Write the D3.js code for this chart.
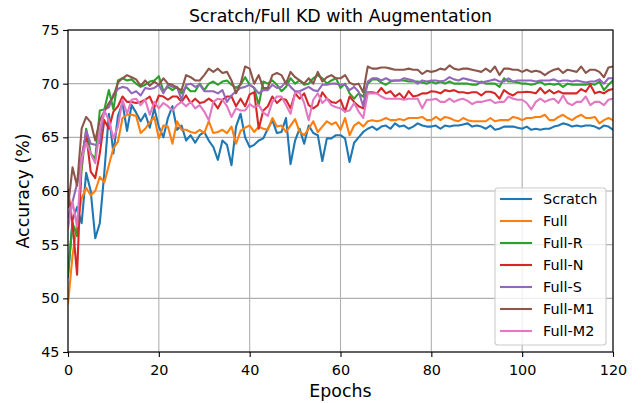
<!DOCTYPE html>
<html><head><meta charset="utf-8">
<script src="https://cdn.jsdelivr.net/npm/d3@7"></script>
<style>
body{margin:0;background:#fff}
svg{display:block}
text{font-family:"DejaVu Sans",sans-serif;fill:#000}
</style>
</head><body>
<svg id="chart" width="643" height="403"></svg>
<script>
const title = "Scratch/Full KD with Augmentation";
const xLabel = "Epochs";
const yLabel = "Accuracy (%)";
const seriesNames = ["Scratch","Full","Full-R","Full-N","Full-S","Full-M1","Full-M2"];
const seriesColors = ["#1f77b4","#ff7f0e","#2ca02c","#d62728","#9467bd","#8c564b","#e377c2"];
const xTicks = [0,20,40,60,80,100,120];
const yTicks = [45,50,55,60,65,70,75];

const scratch = [
52.0,57.3,58.5,57.0,61.7,60.0,55.6,57.0,61.7,67.2,
63.5,67.0,68.2,65.6,68.0,67.3,66.5,67.2,65.9,67.7,
66.0,65.0,66.8,67.9,65.7,66.1,64.7,65.2,64.5,65.2,
65.5,64.7,64.1,62.9,64.7,64.3,62.4,66.0,67.2,65.0,
64.1,64.3,64.7,64.9,65.8,66.6,65.4,65.5,66.8,62.5,
64.7,65.8,64.4,66.1,65.4,65.2,62.8,64.9,64.9,65.2,
65.2,64.9,62.7,64.5,65.0,65.5,65.8,66.0,65.7,66.0,
66.1,65.8,66.3,66.0,66.1,65.8,66.0,66.3,66.1,66.0,
66.0,66.1,65.8,66.1,66.0,66.1,66.1,66.2,66.3,66.0,
66.1,66.0,65.8,66.1,65.7,65.8,66.0,66.0,66.0,65.9,
65.8,66.0,65.7,65.8,65.7,65.8,65.8,66.0,66.1,66.3,
66.2,66.0,66.1,66.0,66.1,66.1,66.0,65.8,66.1,66.0,
65.7];
const full = [
49.5,54.0,57.0,59.3,60.3,59.6,60.0,61.3,60.8,62.4,
64.0,64.6,66.8,67.1,67.1,67.0,65.4,65.8,66.4,66.9,
64.9,66.1,66.0,64.4,66.5,65.7,65.7,65.5,65.4,65.7,
65.4,66.5,65.4,65.5,65.7,65.4,66.0,64.4,65.6,65.9,
66.1,65.5,66.0,65.8,65.7,66.8,66.0,66.1,65.5,66.1,
66.7,65.5,65.2,65.8,66.5,65.5,66.0,66.5,66.2,66.4,
65.7,66.8,65.2,66.1,66.4,66.0,66.5,66.6,66.5,66.6,
66.8,66.6,66.6,66.7,66.6,66.8,66.8,66.8,66.9,66.6,
66.6,66.9,66.6,66.9,66.8,66.6,66.5,66.8,66.6,66.5,
66.5,66.5,66.5,66.8,66.5,66.6,66.6,66.6,66.9,66.8,
66.6,66.8,66.8,66.9,66.9,67.1,66.6,66.6,66.9,67.1,
66.8,66.6,66.9,67.1,66.8,66.8,66.9,66.3,66.6,66.8,
66.6];
const fullR = [
52.3,57.0,55.8,62.0,65.8,63.5,63.0,67.5,67.6,69.4,
67.6,70.3,70.5,70.3,70.4,70.0,69.7,69.9,70.2,70.3,
70.7,69.3,69.7,69.4,69.7,69.1,69.7,69.3,69.3,70.0,
69.4,70.0,70.2,69.9,70.2,70.3,69.9,69.6,69.9,70.6,
69.9,69.6,68.0,70.2,70.0,70.3,69.9,69.3,69.7,70.5,
70.0,70.3,69.9,70.0,70.5,70.8,70.5,70.0,70.3,70.5,
69.6,70.0,69.1,68.6,69.1,68.8,70.0,70.4,70.4,70.1,
69.9,70.2,70.3,70.3,70.3,70.2,70.2,70.2,70.1,70.0,
70.2,70.0,70.2,70.0,70.2,70.0,70.0,70.0,70.0,69.9,
69.9,70.2,70.0,70.0,70.0,69.7,70.5,70.2,70.2,70.1,
70.0,70.0,69.9,70.0,70.2,69.9,70.0,69.9,70.0,69.7,
70.0,69.9,69.9,69.9,69.9,70.0,69.9,70.2,69.4,69.9,
70.3];
const fullN = [
60.1,57.0,52.2,63.2,65.3,61.8,61.2,63.5,66.6,65.8,
67.4,67.9,68.8,68.3,68.3,68.2,68.3,68.5,68.8,67.8,
68.9,68.8,68.5,68.8,68.8,68.3,68.9,68.2,68.6,68.2,
68.3,68.6,68.3,67.7,68.5,68.8,68.8,67.9,68.6,67.9,
69.0,69.2,65.8,67.5,67.9,68.8,68.2,68.6,68.5,67.7,
69.1,68.6,69.1,68.0,67.7,68.0,69.2,68.6,68.3,68.2,
68.5,67.4,68.8,68.3,67.9,67.7,69.2,69.2,69.1,69.6,
69.1,69.3,68.8,69.1,68.6,69.3,68.8,68.9,69.1,69.1,
69.3,69.25,69.1,69.4,69.3,69.4,69.2,69.2,69.1,69.2,
69.2,68.9,69.25,69.25,69.1,68.6,69.4,69.1,68.9,69.2,
69.2,69.25,69.2,69.1,69.6,69.1,69.4,69.1,69.3,69.1,
69.1,69.1,69.1,69.5,69.25,69.9,69.1,69.25,69.1,69.4,
69.5];
const fullS = [
57.5,59.0,60.7,62.9,65.6,64.4,64.3,64.5,67.6,67.8,
69.0,69.5,69.7,69.6,69.1,69.3,68.9,69.6,69.5,69.6,
69.9,69.1,69.9,69.7,69.7,68.5,69.9,70.0,69.7,69.9,
69.3,69.3,69.3,69.1,69.4,68.3,68.9,69.3,69.6,69.7,
69.9,69.6,69.1,69.4,69.4,69.9,69.6,69.7,70.2,69.7,
69.3,69.3,69.5,69.7,69.4,69.3,69.9,69.9,70.0,70.0,
69.9,69.9,69.4,69.7,69.25,67.9,70.2,70.5,70.5,70.3,
70.5,70.3,70.3,70.3,70.5,70.4,70.3,70.0,70.3,70.2,
70.3,70.3,70.2,70.3,70.6,70.4,70.3,70.5,70.4,70.3,
70.2,70.1,70.2,70.3,70.4,70.2,70.2,70.5,70.2,70.3,
70.3,70.3,70.3,70.2,70.3,70.3,70.3,70.4,70.2,70.3,
70.3,70.2,70.3,70.2,70.1,70.2,70.2,70.4,70.0,70.5,
70.5];
const fullM1 = [
58.5,62.2,60.5,65.8,66.9,66.4,64.7,66.6,67.4,68.2,
68.8,70.1,70.5,70.8,70.6,70.4,69.8,70.3,69.8,70.2,
69.9,70.5,70.0,69.9,69.6,69.4,70.8,70.6,70.3,70.3,
70.8,71.4,71.1,71.4,71.0,71.1,70.3,69.1,70.0,71.6,
71.4,70.0,70.8,69.6,69.6,70.8,71.0,70.8,70.0,71.1,
70.6,70.3,70.0,70.5,70.0,71.1,70.2,70.6,70.8,70.5,
70.5,70.8,70.1,69.9,70.0,69.2,71.6,71.4,71.4,71.5,
71.5,71.4,71.3,71.3,71.3,71.4,71.3,71.3,70.9,71.2,
71.1,71.2,71.4,71.3,71.7,71.4,71.3,71.4,71.4,71.3,
71.2,71.1,71.4,71.1,71.6,70.8,71.4,71.4,71.3,71.3,
71.1,71.3,71.1,71.2,71.1,70.8,71.1,71.3,71.4,71.0,
71.3,71.2,71.1,71.6,71.0,71.3,71.3,71.1,70.6,71.5,
71.6];
const fullM2 = [
56.5,59.0,56.7,63.0,64.5,63.5,62.6,65.7,67.5,66.6,
64.9,66.0,68.5,67.2,68.5,68.6,68.0,68.5,67.1,68.3,
67.7,68.2,67.9,67.5,68.0,68.3,67.9,68.3,67.7,68.0,
67.4,66.6,68.3,68.6,68.5,67.9,66.9,67.7,67.5,67.5,
68.1,67.8,68.0,67.3,67.0,68.3,68.8,68.8,68.0,67.2,
69.1,69.2,68.2,66.6,68.5,69.1,68.2,68.6,68.0,67.8,
67.7,67.4,67.5,68.2,67.4,66.8,69.1,69.1,69.1,68.8,
68.6,68.6,68.6,68.6,68.5,68.6,68.6,68.6,67.7,68.5,
68.5,68.6,68.3,68.3,68.6,68.3,68.5,68.6,68.4,68.1,
68.3,68.3,68.4,68.5,68.2,68.3,68.3,68.8,68.6,68.5,
68.5,68.2,67.6,68.3,68.6,68.3,68.5,68.6,68.2,68.9,
68.2,68.0,68.3,68.3,68.8,68.0,68.3,68.3,68.0,68.5,
68.6];

const seriesValues = [scratch, full, fullR, fullN, fullS, fullM1, fullM2];

const svg = d3.select("#chart");
const L = 68, R = 613, T = 30, B = 352;
const x = d3.scaleLinear().domain([0,120]).range([L,R]);
const y = d3.scaleLinear().domain([45,75]).range([B,T]);
const fs = 14.4;     // tick & legend text
const fsL = 17.4;    // title & axis labels

svg.append("rect").attr("width",643).attr("height",403).attr("fill","#fff");

// grid
const grid = svg.append("g").attr("stroke","#b0b0b0").attr("stroke-width",1.1);
grid.selectAll("line.gx").data(xTicks).join("line")
  .attr("x1",d=>x(d)).attr("x2",d=>x(d)).attr("y1",T).attr("y2",B);
grid.selectAll("line.gy").data(yTicks).join("line")
  .attr("y1",d=>y(d)).attr("y2",d=>y(d)).attr("x1",L).attr("x2",R);

// clip
svg.append("clipPath").attr("id","clip").append("rect")
  .attr("x",L).attr("y",T).attr("width",R-L).attr("height",B-T);

const line = d3.line().x((d,i)=>x(i)).y(d=>y(d));
const lines = svg.append("g").attr("clip-path","url(#clip)");
seriesValues.forEach((vals,k)=>{
  lines.append("path").datum(vals)
    .attr("d",line).attr("fill","none")
    .attr("stroke",seriesColors[k]).attr("stroke-width",2.1)
    .attr("stroke-linejoin","round").attr("stroke-linecap","square");
});

// axes
const xAxis = d3.axisBottom(x).tickValues(xTicks).tickSize(4.9).tickPadding(8.2).tickFormat(d3.format("d"));
const yAxis = d3.axisLeft(y).tickValues(yTicks).tickSize(4.9).tickPadding(3.6).tickFormat(d3.format("d"));
const gx = svg.append("g").attr("transform",`translate(0,${B})`).call(xAxis);
const gy = svg.append("g").attr("transform",`translate(${L},0)`).call(yAxis);
[gx,gy].forEach(g=>{
  g.select(".domain").remove();
  g.selectAll(".tick line").attr("stroke","#000").attr("stroke-width",1.1);
  g.selectAll(".tick text").attr("font-size",fs).attr("font-family","DejaVu Sans").attr("fill","#000");
});

// spines
svg.append("rect").attr("x",L).attr("y",T).attr("width",R-L).attr("height",B-T)
  .attr("fill","none").attr("stroke","#000").attr("stroke-width",1.1);

// title & labels
svg.append("text").attr("x",(L+R)/2).attr("y",22).attr("text-anchor","middle")
  .attr("font-size",fsL).text(title);
svg.append("text").attr("x",(L+R)/2).attr("y",397).attr("text-anchor","middle")
  .attr("font-size",fsL).text(xLabel);
svg.append("text").attr("transform",`translate(29,${(T+B)/2}) rotate(-90)`)
  .attr("text-anchor","middle").attr("font-size",fsL).text(yLabel);

// legend
const lg = svg.append("g");
const lx0 = 495, ly0 = 188, lw = 111, lh = 157;
lg.append("rect").attr("x",lx0).attr("y",ly0).attr("width",lw).attr("height",lh)
  .attr("rx",3).attr("fill","#fff").attr("fill-opacity",0.8)
  .attr("stroke","#cccccc").attr("stroke-width",1.1);
seriesNames.forEach((name,k)=>{
  const cy = 199 + k*22;
  lg.append("line").attr("x1",500).attr("x2",532).attr("y1",cy).attr("y2",cy)
    .attr("stroke",seriesColors[k]).attr("stroke-width",2.1);
  lg.append("text").attr("x",543).attr("y",cy+5.2).attr("font-size",fs).text(name);
});
</script>
</body></html>
